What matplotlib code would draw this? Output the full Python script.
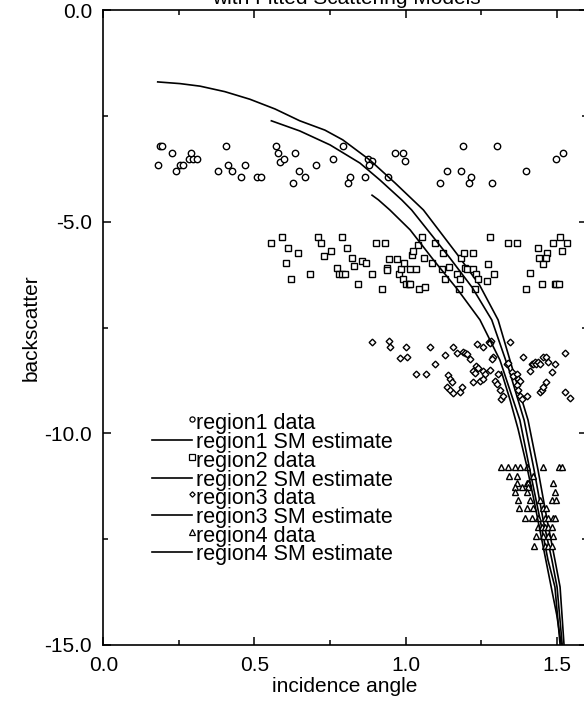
import matplotlib
matplotlib.use("Agg")
import matplotlib.pyplot as plt
from matplotlib.ticker import MultipleLocator, FormatStrFormatter

plt.rcParams['font.family'] = ['Liberation Sans', 'DejaVu Sans']
plt.rcParams['font.size'] = 15

# region data (incidence angle, backscatter)
r1_x = [0.180, 0.188, 0.193, 0.228, 0.241, 0.254, 0.263, 0.282, 0.296, 0.310, 0.289, 0.379,
        0.407, 0.413, 0.427, 0.455, 0.469, 0.509, 0.522, 0.571, 0.579, 0.585, 0.599, 0.634,
        0.648, 0.626, 0.668, 0.702, 0.759, 0.792, 0.816, 0.810, 0.866, 0.874, 0.889, 0.880,
        0.942, 0.964, 0.990, 0.998, 1.136, 1.114, 1.189, 1.183, 1.217, 1.210, 1.301, 1.286,
        1.397, 1.499, 1.520]
r1_y = [-3.65, -3.21, -3.21, -3.36, -3.80, -3.65, -3.65, -3.51, -3.51, -3.51, -3.36, -3.80,
        -3.21, -3.65, -3.80, -3.94, -3.65, -3.94, -3.94, -3.21, -3.36, -3.58, -3.51, -3.36,
        -3.80, -4.08, -3.94, -3.65, -3.51, -3.21, -3.94, -4.08, -3.94, -3.51, -3.56, -3.65,
        -3.94, -3.36, -3.36, -3.56, -3.80, -4.08, -3.21, -3.80, -3.94, -4.08, -3.21, -4.08,
        -3.80, -3.51, -3.36]

r2_x = [0.556, 0.590, 0.610, 0.645, 0.605, 0.620, 0.684, 0.709, 0.719, 0.729, 0.753, 0.788,
        0.806, 0.773, 0.780, 0.790, 0.799, 0.822, 0.828, 0.842, 0.855, 0.868, 0.902, 0.932,
        0.889, 0.922, 0.939, 0.939, 0.946, 0.971, 0.977, 0.985, 0.995, 0.992, 1.001, 1.010,
        1.014, 1.014, 1.034, 1.021, 1.026, 1.040, 1.055, 1.045, 1.065, 1.061, 1.086, 1.096,
        1.121, 1.124, 1.130, 1.143, 1.170, 1.180, 1.175, 1.184, 1.194, 1.198, 1.204, 1.222,
        1.224, 1.232, 1.240, 1.228, 1.268, 1.273, 1.278, 1.293, 1.338, 1.367, 1.397, 1.411,
        1.437, 1.452, 1.467, 1.442, 1.463, 1.456, 1.486, 1.511, 1.516, 1.534, 1.495, 1.499,
        1.507]
r2_y = [-5.50, -5.37, -5.61, -5.74, -5.98, -6.36, -6.23, -5.37, -5.49, -5.80, -5.68, -5.37,
        -5.62, -6.09, -6.23, -6.23, -6.23, -5.86, -6.04, -6.47, -5.92, -5.98, -5.50, -5.50,
        -6.23, -6.60, -6.09, -6.13, -5.89, -5.89, -6.23, -6.12, -5.98, -6.35, -6.47, -6.47,
        -6.47, -6.11, -6.11, -5.79, -5.68, -5.55, -5.37, -6.60, -6.55, -5.86, -5.98, -5.49,
        -6.11, -5.74, -6.36, -6.08, -6.23, -6.36, -6.60, -5.86, -5.74, -6.09, -6.12, -6.11,
        -5.74, -6.23, -6.36, -6.60, -6.41, -5.99, -5.37, -6.23, -5.50, -5.50, -6.60, -6.21,
        -5.62, -6.47, -5.74, -5.86, -5.86, -5.99, -5.50, -5.37, -5.68, -5.50, -6.47, -6.47,
        -6.47]

r3_x = [0.888, 0.946, 0.950, 1.001, 0.981, 1.003, 1.080, 1.097, 1.130, 1.157, 1.169, 1.190,
        1.196, 1.202, 1.213, 1.235, 1.255, 1.275, 1.284, 1.279, 1.290, 1.285, 1.347, 1.036,
        1.069, 1.139, 1.147, 1.152, 1.136, 1.147, 1.157, 1.185, 1.180, 1.224, 1.232, 1.240,
        1.222, 1.229, 1.257, 1.262, 1.246, 1.257, 1.279, 1.295, 1.301, 1.306, 1.312, 1.317,
        1.323, 1.334, 1.339, 1.351, 1.356, 1.367, 1.372, 1.378, 1.367, 1.372, 1.378, 1.384,
        1.400, 1.389, 1.411, 1.417, 1.422, 1.428, 1.433, 1.438, 1.444, 1.455, 1.466, 1.472,
        1.483, 1.494, 1.444, 1.450, 1.455, 1.466, 1.527, 1.527, 1.543]
r3_y = [-7.85, -7.82, -7.95, -7.97, -8.23, -8.20, -7.97, -8.36, -8.15, -7.95, -8.11, -8.09,
        -8.11, -8.12, -8.24, -7.90, -7.97, -7.85, -7.82, -7.87, -8.19, -8.24, -7.85, -8.60,
        -8.60, -8.62, -8.72, -8.78, -8.91, -8.99, -9.06, -8.91, -9.02, -8.80, -8.42, -8.46,
        -8.52, -8.58, -8.54, -8.60, -8.76, -8.72, -8.50, -8.76, -8.83, -8.60, -8.99, -9.19,
        -9.11, -8.36, -8.35, -8.56, -8.64, -8.60, -8.72, -8.76, -8.87, -8.99, -9.11, -9.19,
        -9.11, -8.20, -8.52, -8.36, -8.36, -8.32, -8.36, -8.32, -8.36, -8.20, -8.20, -8.32,
        -8.56, -8.36, -9.03, -8.99, -8.91, -8.80, -8.10, -9.03, -9.17]

r4_x = [1.317, 1.339, 1.361, 1.378, 1.400, 1.455, 1.508, 1.518,
        1.342, 1.367, 1.422,
        1.367, 1.400, 1.405, 1.488,
        1.361, 1.384, 1.405,
        1.361, 1.400, 1.494,
        1.372, 1.411, 1.444, 1.483, 1.499,
        1.375, 1.400, 1.422, 1.455, 1.466,
        1.394, 1.417, 1.438, 1.461, 1.472, 1.488, 1.494,
        1.438, 1.450, 1.461, 1.472, 1.483,
        1.433, 1.455, 1.472, 1.488,
        1.425, 1.461, 1.472, 1.483]
r4_y = [-10.81] * 8 + [-11.01] * 3 + [-11.17] * 4 + [-11.28] * 3 + [-11.38] * 3 + \
       [-11.58] * 5 + [-11.77] * 5 + [-12.00] * 7 + [-12.22] * 5 + [-12.43] * 4 + [-12.68] * 4

# fitted SM estimates
sm1_x = [0.180, 0.254, 0.320, 0.402, 0.485, 0.568, 0.650, 0.733, 0.792, 0.882, 0.965,
         1.059, 1.173, 1.245, 1.306, 1.355, 1.405, 1.438, 1.468, 1.494, 1.511, 1.524]
sm1_y = [-1.69, -1.73, -1.79, -1.92, -2.10, -2.33, -2.61, -2.83, -3.06, -3.54, -4.08,
         -4.72, -5.79, -6.50, -7.32, -8.51, -9.69, -10.87, -12.05, -13.00, -13.64, -15.0]
sm2_x = [0.556, 0.650, 0.750, 0.849, 0.915, 0.987, 1.020, 1.147, 1.220, 1.285, 1.342,
         1.392, 1.425, 1.455, 1.484, 1.501, 1.518]
sm2_y = [-2.61, -2.85, -3.18, -3.61, -4.01, -4.48, -4.72, -5.86, -6.55, -7.32, -8.50,
         -9.69, -10.87, -12.05, -13.00, -13.64, -15.0]
sm3_x = [0.889, 0.910, 0.948, 1.015, 1.092, 1.173, 1.246, 1.312, 1.378, 1.411, 1.445,
         1.471, 1.494, 1.511]
sm3_y = [-4.37, -4.48, -4.72, -5.19, -5.90, -6.61, -7.32, -8.27, -9.69, -10.87, -12.05,
         -13.00, -13.64, -15.0]
sm4_x = [1.317, 1.345, 1.372, 1.400, 1.425, 1.450, 1.475, 1.500, 1.515]
sm4_y = [-8.55, -9.20, -9.90, -10.75, -11.60, -12.50, -13.40, -14.30, -15.0]

labels = ['region1 data', 'region1 SM estimate', 'region2 data', 'region2 SM estimate',
          'region3 data', 'region3 SM estimate', 'region4 data', 'region4 SM estimate']
markers = ['o', 's', 'D', '^']
msizes = [4.6, 4.6, 3.4, 5.0]

fig = plt.figure(figsize=(5.84, 7.04), dpi=100)
ax = fig.add_axes([0.1769, 0.0845, 0.8282, 0.9006])

data = [(r1_x, r1_y), (r2_x, r2_y), (r3_x, r3_y), (r4_x, r4_y)]
fits = [(sm1_x, sm1_y), (sm2_x, sm2_y), (sm3_x, sm3_y), (sm4_x, sm4_y)]
for (dx, dy), (fx, fy), m, ms in zip(data, fits, markers, msizes):
    ax.plot(dx, dy, linestyle='none', marker=m, ms=ms, mfc='white', mec='black', mew=1.0)
    ax.plot(fx, fy, color='black', linewidth=1.2)

# legend drawn the old-fashioned way: short line, marker at its right end, text after
lx0, lx1, ltext = 0.160, 0.292, 0.3055
ly0, lstep = -9.78, -0.443
for i, lab in enumerate(labels):
    ty = ly0 + i * lstep
    if i % 2 == 0:
        k = i // 2
        ax.plot([lx1], [ty + 0.11], linestyle='none', marker=markers[k], ms=msizes[k] * 0.8,
                mfc='white', mec='black', mew=0.9, clip_on=False)
    else:
        ax.plot([lx0, lx1], [ty + 0.06, ty + 0.06], color='black', linewidth=1.2)
    ax.text(ltext, ty, lab, va='center', ha='left', fontsize=15.5)

ax.set_xlim(0, 1.6)
ax.set_ylim(-15, 0)
ax.xaxis.set_major_locator(MultipleLocator(0.5))
ax.xaxis.set_minor_locator(MultipleLocator(0.25))
ax.yaxis.set_major_locator(MultipleLocator(5))
ax.yaxis.set_minor_locator(MultipleLocator(2.5))
ax.xaxis.set_major_formatter(FormatStrFormatter('%.1f'))
ax.yaxis.set_major_formatter(FormatStrFormatter('%.1f'))
ax.tick_params(which='both', direction='in', top=True, right=True, width=1.1)
ax.tick_params(which='major', length=6, pad=8)
ax.tick_params(which='minor', length=3.5)
for s in ax.spines.values():
    s.set_linewidth(1.2)

ax.set_xlabel('incidence angle', labelpad=2)
ax.set_ylabel('backscatter')
ax.yaxis.set_label_coords(-0.13, 0.5)
fig.text(0.593, 1 - 4 / 704, 'with Fitted Scattering Models', ha='center', va='baseline',
         fontsize=15)

fig.savefig('out.png', dpi=100)
